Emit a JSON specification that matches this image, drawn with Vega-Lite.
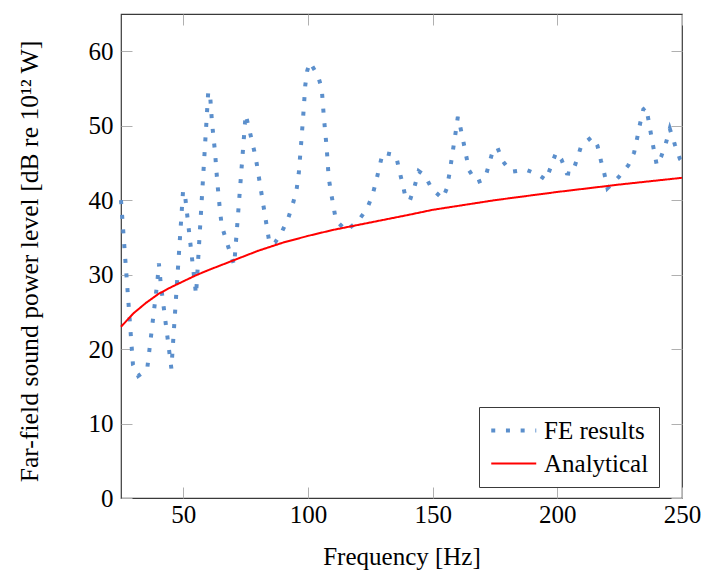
{
  "$schema": "https://vega.github.io/schema/vega-lite/v6.json",
  "autosize": "none",
  "width": 561,
  "height": 484,
  "padding": {"left": 121, "top": 14, "right": 21, "bottom": 72},
  "background": "white",
  "config": {
    "view": {"stroke": "#3a3a3a", "strokeWidth": 1.2},
    "font": "Liberation Serif",
    "style": {
      "guide-label": {"font": "Liberation Serif", "fill": "black"},
      "guide-title": {"font": "Liberation Serif", "fill": "black"}
    },
    "axis": {
      "labelFont": "Liberation Serif", "titleFont": "Liberation Serif",
      "labelFontSize": 25, "titleFontSize": 25,
      "labelColor": "black", "titleColor": "black", "titleFontWeight": "normal",
      "domain": false, "grid": false,
      "tickColor": "#b0b0b0", "tickSize": -11, "tickWidth": 1
    },
    "legend": {
      "orient": "none", "legendX": 358, "legendY": 393,
      "padding": 10, "fillColor": "white", "strokeColor": "#3a3a3a",
      "symbolType": "M-1,0H3", "symbolSize": 506,
      "labelFont": "Liberation Serif", "labelFontSize": 25, "labelColor": "black",
      "labelOffset": 28, "rowPadding": 7, "labelLimit": 300
    }
  },
  "data": {"values": [
    {"f": 25, "L": 40.0, "series": "FE results"},
    {"f": 29.8, "L": 17.9, "series": "FE results"},
    {"f": 31.9, "L": 16.4, "series": "FE results"},
    {"f": 35.5, "L": 17.3, "series": "FE results"},
    {"f": 39.6, "L": 29.1, "series": "FE results"},
    {"f": 40.2, "L": 31.5, "series": "FE results"},
    {"f": 40.9, "L": 28.9, "series": "FE results"},
    {"f": 45.2, "L": 17.4, "series": "FE results"},
    {"f": 49.9, "L": 41.3, "series": "FE results"},
    {"f": 50.6, "L": 40.9, "series": "FE results"},
    {"f": 55.1, "L": 27.3, "series": "FE results"},
    {"f": 60.0, "L": 54.6, "series": "FE results"},
    {"f": 60.7, "L": 54.3, "series": "FE results"},
    {"f": 61.5, "L": 50.4, "series": "FE results"},
    {"f": 62.7, "L": 46.5, "series": "FE results"},
    {"f": 63.6, "L": 42.5, "series": "FE results"},
    {"f": 64.7, "L": 38.6, "series": "FE results"},
    {"f": 65.4, "L": 36.6, "series": "FE results"},
    {"f": 67.0, "L": 34.8, "series": "FE results"},
    {"f": 68.8, "L": 32.9, "series": "FE results"},
    {"f": 70.4, "L": 31.3, "series": "FE results"},
    {"f": 75.0, "L": 51.5, "series": "FE results"},
    {"f": 76.3, "L": 49.7, "series": "FE results"},
    {"f": 79.0, "L": 45.8, "series": "FE results"},
    {"f": 84.6, "L": 34.1, "series": "FE results"},
    {"f": 86.8, "L": 34.3, "series": "FE results"},
    {"f": 89.6, "L": 35.8, "series": "FE results"},
    {"f": 92.0, "L": 37.5, "series": "FE results"},
    {"f": 94.1, "L": 39.7, "series": "FE results"},
    {"f": 95.5, "L": 41.6, "series": "FE results"},
    {"f": 96.3, "L": 43.6, "series": "FE results"},
    {"f": 97.2, "L": 47.4, "series": "FE results"},
    {"f": 98.1, "L": 51.4, "series": "FE results"},
    {"f": 98.9, "L": 55.4, "series": "FE results"},
    {"f": 99.7, "L": 57.4, "series": "FE results"},
    {"f": 100.8, "L": 58.5, "series": "FE results"},
    {"f": 104.0, "L": 56.7, "series": "FE results"},
    {"f": 105.5, "L": 55.0, "series": "FE results"},
    {"f": 106.4, "L": 51.0, "series": "FE results"},
    {"f": 107.5, "L": 47.0, "series": "FE results"},
    {"f": 108.3, "L": 43.0, "series": "FE results"},
    {"f": 109.2, "L": 41.1, "series": "FE results"},
    {"f": 111.2, "L": 37.3, "series": "FE results"},
    {"f": 115.3, "L": 35.9, "series": "FE results"},
    {"f": 120.1, "L": 37.2, "series": "FE results"},
    {"f": 123.6, "L": 38.8, "series": "FE results"},
    {"f": 125.8, "L": 40.6, "series": "FE results"},
    {"f": 127.3, "L": 42.5, "series": "FE results"},
    {"f": 128.6, "L": 44.4, "series": "FE results"},
    {"f": 130.0, "L": 46.4, "series": "FE results"},
    {"f": 135.3, "L": 46.0, "series": "FE results"},
    {"f": 136.6, "L": 44.0, "series": "FE results"},
    {"f": 138.0, "L": 42.1, "series": "FE results"},
    {"f": 139.3, "L": 40.1, "series": "FE results"},
    {"f": 140.9, "L": 40.0, "series": "FE results"},
    {"f": 142.8, "L": 41.9, "series": "FE results"},
    {"f": 144.4, "L": 43.9, "series": "FE results"},
    {"f": 146.9, "L": 43.3, "series": "FE results"},
    {"f": 149.7, "L": 41.5, "series": "FE results"},
    {"f": 154.0, "L": 40.2, "series": "FE results"},
    {"f": 155.6, "L": 41.5, "series": "FE results"},
    {"f": 156.7, "L": 43.5, "series": "FE results"},
    {"f": 159.3, "L": 49.3, "series": "FE results"},
    {"f": 160.1, "L": 51.2, "series": "FE results"},
    {"f": 161.1, "L": 49.8, "series": "FE results"},
    {"f": 162.3, "L": 47.9, "series": "FE results"},
    {"f": 164.6, "L": 44.0, "series": "FE results"},
    {"f": 167.7, "L": 42.4, "series": "FE results"},
    {"f": 170.9, "L": 42.8, "series": "FE results"},
    {"f": 172.5, "L": 44.7, "series": "FE results"},
    {"f": 174.1, "L": 46.6, "series": "FE results"},
    {"f": 175.9, "L": 47.1, "series": "FE results"},
    {"f": 178.2, "L": 45.2, "series": "FE results"},
    {"f": 181.4, "L": 43.8, "series": "FE results"},
    {"f": 187.3, "L": 44.1, "series": "FE results"},
    {"f": 192.0, "L": 43.5, "series": "FE results"},
    {"f": 195.5, "L": 42.7, "series": "FE results"},
    {"f": 197.5, "L": 44.6, "series": "FE results"},
    {"f": 199.5, "L": 46.4, "series": "FE results"},
    {"f": 201.6, "L": 45.5, "series": "FE results"},
    {"f": 203.8, "L": 43.6, "series": "FE results"},
    {"f": 205.9, "L": 43.5, "series": "FE results"},
    {"f": 207.8, "L": 45.4, "series": "FE results"},
    {"f": 209.6, "L": 47.3, "series": "FE results"},
    {"f": 213.9, "L": 48.5, "series": "FE results"},
    {"f": 216.1, "L": 47.3, "series": "FE results"},
    {"f": 217.5, "L": 45.3, "series": "FE results"},
    {"f": 218.9, "L": 43.5, "series": "FE results"},
    {"f": 220.1, "L": 41.6, "series": "FE results"},
    {"f": 224.6, "L": 43.1, "series": "FE results"},
    {"f": 228.5, "L": 44.7, "series": "FE results"},
    {"f": 230.8, "L": 46.4, "series": "FE results"},
    {"f": 232.0, "L": 48.3, "series": "FE results"},
    {"f": 233.2, "L": 50.3, "series": "FE results"},
    {"f": 234.5, "L": 52.2, "series": "FE results"},
    {"f": 235.6, "L": 52.5, "series": "FE results"},
    {"f": 236.7, "L": 50.5, "series": "FE results"},
    {"f": 237.7, "L": 48.6, "series": "FE results"},
    {"f": 238.8, "L": 46.6, "series": "FE results"},
    {"f": 239.9, "L": 44.7, "series": "FE results"},
    {"f": 241.6, "L": 45.8, "series": "FE results"},
    {"f": 243.5, "L": 47.6, "series": "FE results"},
    {"f": 245.1, "L": 49.6, "series": "FE results"},
    {"f": 247.2, "L": 47.4, "series": "FE results"},
    {"f": 249.2, "L": 45.5, "series": "FE results"},
    {"f": 250, "L": 45.2, "series": "FE results"},
    {"f": 25, "L": 23.0, "series": "Analytical"},
    {"f": 30, "L": 24.8, "series": "Analytical"},
    {"f": 35, "L": 26.2, "series": "Analytical"},
    {"f": 40, "L": 27.4, "series": "Analytical"},
    {"f": 45, "L": 28.3, "series": "Analytical"},
    {"f": 50, "L": 29.1, "series": "Analytical"},
    {"f": 55, "L": 29.9, "series": "Analytical"},
    {"f": 60, "L": 30.6, "series": "Analytical"},
    {"f": 70, "L": 31.9, "series": "Analytical"},
    {"f": 80, "L": 33.2, "series": "Analytical"},
    {"f": 90, "L": 34.3, "series": "Analytical"},
    {"f": 100, "L": 35.2, "series": "Analytical"},
    {"f": 110, "L": 36.0, "series": "Analytical"},
    {"f": 125, "L": 37.0, "series": "Analytical"},
    {"f": 140, "L": 38.0, "series": "Analytical"},
    {"f": 150, "L": 38.7, "series": "Analytical"},
    {"f": 175, "L": 40.0, "series": "Analytical"},
    {"f": 200, "L": 41.1, "series": "Analytical"},
    {"f": 225, "L": 42.1, "series": "Analytical"},
    {"f": 250, "L": 43.0, "series": "Analytical"}
  ]},
  "layer": [
    {
      "mark": {"type": "line", "interpolate": "linear", "strokeJoin": "miter", "strokeCap": "butt"},
      "encoding": {
        "x": {"field": "f", "type": "quantitative",
          "scale": {"domain": [25, 250], "nice": false, "zero": false},
          "axis": {"orient": "bottom", "values": [50, 100, 150, 200, 250], "title": "Frequency [Hz]",
            "titleFont": "Liberation Serif", "labelFont": "Liberation Serif",
            "labelPadding": 15, "labelFlush": false, "titleBaseline": "alphabetic", "titleY": 66}},
        "y": {"field": "L", "type": "quantitative",
          "scale": {"domain": [0, 65], "nice": false},
          "axis": {"orient": "left", "values": [0, 10, 20, 30, 40, 50, 60],
            "title": "Far-field sound power level [dB re 10¹² W]",
            "titleFont": "Liberation Serif", "labelFont": "Liberation Serif", "titleFontSize": 25.7,
            "labelPadding": 19, "titleX": -84, "titleY": 247, "titleBaseline": "alphabetic"}},
        "color": {"field": "series", "type": "nominal",
          "scale": {"domain": ["FE results", "Analytical"], "range": ["#5b8fcc", "#ff0000"]},
          "legend": {"title": null, "labelFont": "Liberation Serif"}},
        "strokeDash": {"field": "series", "type": "nominal",
          "scale": {"domain": ["FE results", "Analytical"], "range": [[4, 10.7], [1, 0]]},
          "legend": {"title": null, "labelFont": "Liberation Serif"}},
        "strokeWidth": {"field": "series", "type": "ordinal",
          "scale": {"domain": ["FE results", "Analytical"], "range": [4, 2]},
          "legend": {"title": null, "labelFont": "Liberation Serif"}}
      }
    },
    {
      "mark": {"type": "line", "strokeOpacity": 0},
      "encoding": {
        "x": {"field": "f", "type": "quantitative",
          "scale": {"domain": [25, 250], "nice": false, "zero": false},
          "axis": {"orient": "top", "values": [50, 100, 150, 200, 250], "labels": false, "title": null}},
        "y": {"field": "L", "type": "quantitative",
          "scale": {"domain": [0, 65], "nice": false},
          "axis": {"orient": "right", "values": [0, 10, 20, 30, 40, 50, 60], "labels": false, "title": null}},
        "detail": {"field": "series"}
      }
    }
  ],
  "resolve": {"axis": {"x": "independent", "y": "independent"}}
}
